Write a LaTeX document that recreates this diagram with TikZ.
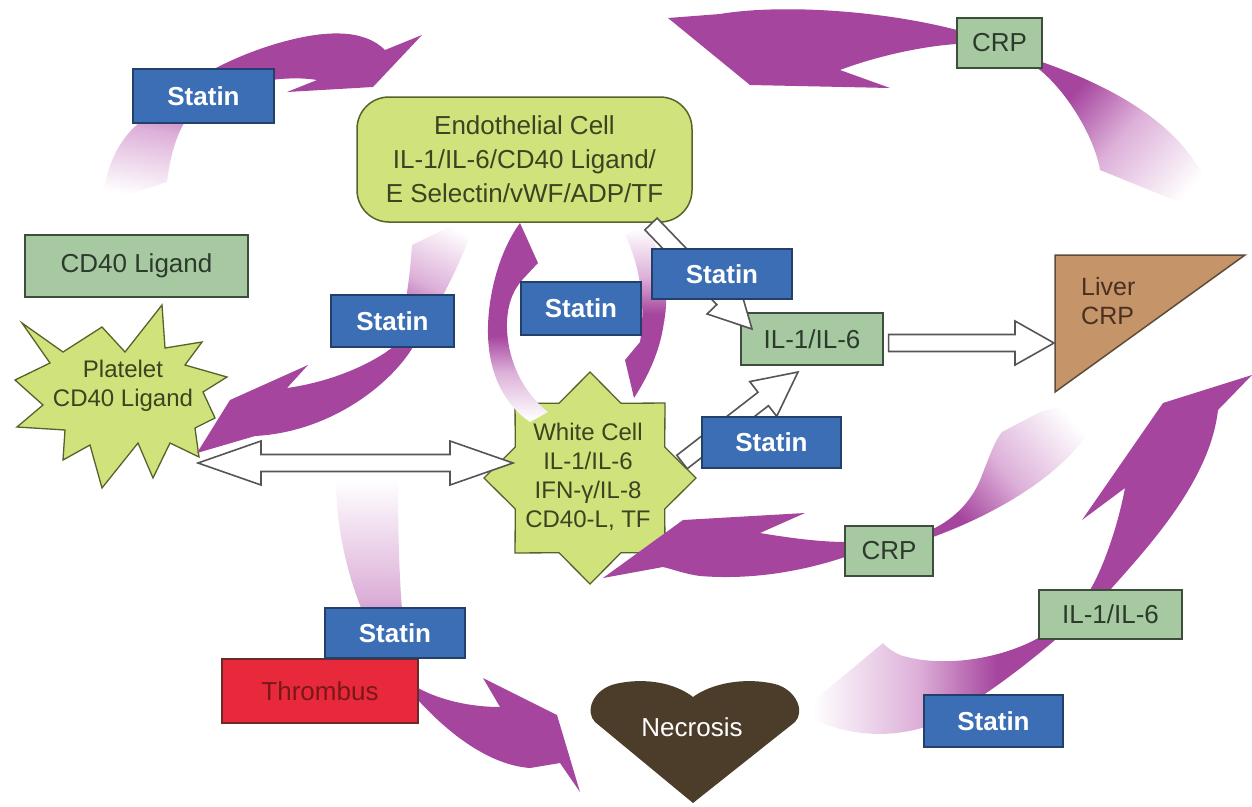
\documentclass[tikz,border=0pt]{standalone}
\usepackage{fontspec}
\setmainfont{Liberation Sans}
\usetikzlibrary{calc,shapes.geometric}
\definecolor{purp}{HTML}{A6459E}
\definecolor{purpmid}{HTML}{DDB0D9}
\definecolor{statinblue}{HTML}{3B6EB4}
\definecolor{statinborder}{HTML}{22406A}
\definecolor{sage}{HTML}{A6C9A1}
\definecolor{sageborder}{HTML}{3E4E3C}
\definecolor{sagetext}{HTML}{2C3A2C}
\definecolor{lime}{HTML}{CFE27B}
\definecolor{limeborder}{HTML}{55632A}
\definecolor{limetext}{HTML}{3A4420}
\definecolor{liverfill}{HTML}{C59469}
\definecolor{liverborder}{HTML}{5E4C3A}
\definecolor{livertext}{HTML}{4A3020}
\definecolor{thrfill}{HTML}{E8293B}
\definecolor{thrborder}{HTML}{6B2A2A}
\definecolor{thrtext}{HTML}{7A1818}
\definecolor{heartfill}{HTML}{4B3D2A}
\definecolor{hollowline}{HTML}{555555}
% the part of a shading from 25bp to 75bp is what covers the shaded rectangle
\pgfdeclareverticalshading{tailfade}{100bp}{color(0bp)=(purp); color(28bp)=(purp); color(46bp)=(purpmid); color(70bp)=(white); color(100bp)=(white)}
\pgfdeclarehorizontalshading{tailfadeh}{100bp}{color(0bp)=(white); color(30bp)=(white); color(54bp)=(purpmid); color(72bp)=(purp); color(100bp)=(purp)}

% purple curved arrow: path, shading options, tail rectangle corners
\newcommand\purparrow[4]{%
  \begin{scope}
    \clip #1;
    \fill[purp, even odd rule] (-20,-20) rectangle (1280,830) #3 rectangle #4;
    \shade[#2] #3 rectangle #4;
  \end{scope}}
% hollow single arrow: start, end, head length
\newcommand\harrow[3]{%
  \coordinate (hb) at ($(#2)!#3pt!(#1)$);
  \draw[hollow] ($(#1)!8.5pt!90:(#2)$) -- ($(hb)!8.5pt!-90:(#1)$) -- ($(hb)!22pt!-90:(#1)$) -- (#2)
    -- ($(hb)!22pt!90:(#1)$) -- ($(hb)!8.5pt!90:(#1)$) -- ($(#1)!8.5pt!-90:(#2)$) -- cycle;}
% hollow double arrow
\newcommand\hdarrow[3]{%
  \coordinate (hbA) at ($(#1)!#3pt!(#2)$);
  \coordinate (hbB) at ($(#2)!#3pt!(#1)$);
  \draw[hollow] (#1) -- ($(hbA)!22pt!90:(#2)$) -- ($(hbA)!8.5pt!90:(#2)$) -- ($(hbB)!8.5pt!-90:(#1)$)
    -- ($(hbB)!22pt!-90:(#1)$) -- (#2) -- ($(hbB)!22pt!90:(#1)$) -- ($(hbB)!8.5pt!90:(#1)$)
    -- ($(hbA)!8.5pt!-90:(#2)$) -- ($(hbA)!22pt!-90:(#2)$) -- cycle;}

\def\arrA{(103,203) .. controls (105,160) and (125,130) .. (150,115) .. controls (180,85) and (230,55) .. (290,40) .. controls (330,30) and (365,30) .. (385,50) -- (422,35) -- (373,87) -- (287,92) -- (317,80) .. controls (280,74) and (230,85) .. (200,105) .. controls (185,115) and (172,140) .. (167,182) -- cycle}
\def\arrB{(1218,218) .. controls (1205,150) and (1150,100) .. (1042,62) .. controls (1010,50) and (990,35) .. (957,30) .. controls (880,10) and (780,4) .. (720,14) -- (668,18) -- (750,85) -- (890,88) -- (840,70) .. controls (880,55) and (925,46) .. (957,44) .. controls (990,44) and (1020,58) .. (1040,70) .. controls (1070,95) and (1095,140) .. (1100,170) -- cycle}
\def\arrD{(478,213) .. controls (460,270) and (430,320) .. (413,347) .. controls (390,385) and (330,432) .. (255,436) -- (197,453) -- (230,400) -- (308,365) -- (287,388) .. controls (330,382) and (370,365) .. (393,347) .. controls (405,320) and (410,275) .. (412,245) -- cycle}
\def\arrE{(520,223) .. controls (500,250) and (487,295) .. (488,335) .. controls (489,375) and (505,405) .. (530,422) -- (548,412) .. controls (520,390) and (506,355) .. (507,322) .. controls (508,300) and (515,288) .. (523,279) -- (538,263) -- cycle}
\def\arrF{(645,226) .. controls (664,255) and (670,290) .. (664,322) .. controls (660,352) and (647,378) .. (634,398) -- (625,360) -- (640,342) .. controls (646,305) and (640,265) .. (625,235) -- cycle}
\def\arrG{(1103,393) .. controls (1098,450) and (1020,505) .. (933,537) .. controls (900,550) and (870,555) .. (845,557) .. controls (800,572) and (750,580) .. (700,576) .. controls (685,574) and (672,569) .. (663,567) -- (603,578) -- (683,520) -- (805,513) -- (760,533) .. controls (790,538) and (820,542) .. (846,542) .. controls (880,540) and (915,535) .. (935,528) .. controls (960,515) and (975,495) .. (982,475) .. controls (990,455) and (995,440) .. (1002,432) -- (1040,412) -- cycle}
\def\arrH{(800,712) .. controls (850,742) and (900,735) .. (925,727) .. controls (965,712) and (1020,670) .. (1055,640) .. controls (1075,620) and (1095,605) .. (1110,590) .. controls (1150,545) and (1210,480) .. (1218,410) -- (1252,375) -- (1163,403) -- (1082,520) -- (1125,488) .. controls (1117,530) and (1102,570) .. (1090,590) .. controls (1075,612) and (1060,628) .. (1040,637) .. controls (1000,660) and (940,668) .. (900,655) .. controls (890,650) and (885,646) .. (883,643) -- cycle}
\def\arrI{(336,466) .. controls (333,560) and (370,650) .. (418,700) .. controls (450,735) and (490,765) .. (530,768) -- (560,763) -- (580,792) -- (557,715) -- (483,678) -- (500,707) .. controls (470,707) and (440,700) .. (418,688) .. controls (400,650) and (398,560) .. (398,472) -- cycle}

\begin{document}
\begin{tikzpicture}[x=1pt,y=-1pt,
  statin/.style={draw=statinborder, fill=statinblue, line width=1.3pt, text=white, inner sep=0pt,
    font=\bfseries\fontsize{26}{30}\selectfont},
  gbox/.style={draw=sageborder, fill=sage, line width=1.3pt, text=sagetext, inner sep=0pt,
    font=\fontsize{26}{30}\selectfont},
  endo/.style={draw=limeborder, fill=lime, line width=1.5pt, text=limetext, inner sep=0pt,
    rounded corners=32pt, align=center, font=\fontsize{26}{34}\selectfont},
  limeshape/.style={draw=limeborder, fill=lime, line width=1.3pt, line join=miter},
  celltext/.style={text=limetext, align=center, inner sep=0pt, font=\fontsize{24}{29}\selectfont},
  thr/.style={draw=thrborder, fill=thrfill, line width=1.3pt, text=thrtext, inner sep=0pt,
    font=\fontsize{26}{30}\selectfont},
  liverst/.style={draw=liverborder, fill=liverfill, line width=1.5pt},
  livtext/.style={text=livertext, align=left, inner sep=0pt, font=\fontsize{25}{29}\selectfont},
  heart/.style={fill=heartfill},
  nectext/.style={text=white, inner sep=0pt, font=\fontsize{26}{30}\selectfont},
  hollow/.style={draw=hollowline, fill=white, line width=1.6pt, line join=miter},
  fadeV/.style={shading=tailfade, shading angle=#1},
  fadeH/.style={shading=tailfadeh, shading angle=0}
]
\useasboundingbox (0,0) rectangle (1252,806);

% --- cells (stars) ---
\draw[limeshape] (22,323) -- (63,352) -- (102,327) -- (125,352) -- (162,305) -- (165,348) -- (202,342)
  -- (185,365) -- (227,377) -- (203,392) -- (215,418) -- (195,428) -- (199,457) -- (170,443)
  -- (153,478) -- (138,443) -- (102,488) -- (90,445) -- (63,460) -- (65,430) -- (17,427)
  -- (43,405) -- (15,380) -- (50,363) -- cycle;
\node[celltext] (plt) at (123,386) {Platelet\\CD40 Ligand};
\node[limeshape, star, star points=8, star point ratio=1.31, minimum size=212pt, inner sep=0pt] (wcs) at (590,478) {};
\node[celltext] (wc) at (588,477) {White Cell\\IL-1/IL-6\\IFN-γ/IL-8\\CD40-L, TF};

% --- purple curved arrows ---
\purparrow{\arrA}{fadeV=170}{(80,70)}{(215,212)}
\purparrow{\arrB}{fadeV=229}{(1042,55)}{(1232,226)}
\purparrow{\arrD}{fadeV=334}{(385,205)}{(490,350)}
\purparrow{\arrE}{fadeV=180}{(470,330)}{(560,430)}
\purparrow{\arrF}{fadeV=0}{(610,218)}{(678,320)}
\purparrow{\arrG}{fadeV=311}{(935,385)}{(1115,560)}
\purparrow{\arrH}{fadeH}{(790,630)}{(1010,750)}
\purparrow{\arrI}{fadeV=0}{(325,455)}{(418,700)}

% --- shapes and boxes ---
\fill[heart] (693,803) -- (595,722) .. controls (585,712) and (592,690) .. (615,684)
  .. controls (645,677) and (675,683) .. (693,697) .. controls (712,683) and (745,677) .. (775,684)
  .. controls (797,690) and (805,712) .. (795,722) -- cycle;
\node[nectext] (nec) at (692,727) {Necrosis};
\draw[liverst] (1055,255) -- (1245,255) -- (1055,392) -- cycle;
\node[livtext, anchor=west] (liv) at (1081,301) {Liver\\CRP};
\coordinate (livin) at (1054,343);

\node[gbox, minimum width=223pt, minimum height=62pt] (cd40) at (136.5,266) {CD40 Ligand};
\node[gbox, minimum width=85pt, minimum height=50pt] (crp1) at (999.5,43) {CRP};
\node[gbox, minimum width=88pt, minimum height=50pt] (crp2) at (889,551) {CRP};
\node[gbox, minimum width=142pt, minimum height=52pt] (il1) at (812,339) {IL-1/IL-6};
\node[gbox, minimum width=143pt, minimum height=49pt] (il2) at (1110.5,614.5) {IL-1/IL-6};
\node[endo, minimum width=335pt, minimum height=125pt] (endo) at (524.5,159.5)
  {Endothelial Cell\\IL-1/IL-6/CD40 Ligand/\\E Selectin/vWF/ADP/TF};
\node[thr, minimum width=196pt, minimum height=64pt] (thr) at (320,691) {Thrombus};

% --- hollow arrows ---
\coordinate (dblL) at (198,463);
\coordinate (dblR) at (513,463);
\hdarrow{dblL}{dblR}{63}
\coordinate (e2ilS) at (651,224);
\coordinate (e2ilE) at (752,329);
\harrow{e2ilS}{e2ilE}{42}
\coordinate (w2ilS) at (682,462);
\coordinate (w2ilE) at (798,372);
\harrow{w2ilS}{w2ilE}{44}
\coordinate (ilout) at ($(il1.east)+(5,4)$);
\harrow{ilout}{livin}{39}

% --- statin boxes ---
\node[statin, minimum width=141pt, minimum height=54pt] (s1) at (203.5,96) {Statin};
\node[statin, minimum width=123pt, minimum height=52pt] (s2) at (392.5,321) {Statin};
\node[statin, minimum width=120pt, minimum height=53pt] (s3) at (581,308.5) {Statin};
\node[statin, minimum width=140pt, minimum height=50pt] (s4) at (722,274) {Statin};
\node[statin, minimum width=139pt, minimum height=51pt] (s5) at (771.5,442.5) {Statin};
\node[statin, minimum width=139pt, minimum height=52pt] (s6) at (993.5,721) {Statin};
\node[statin, minimum width=140pt, minimum height=50pt] (s7) at (395,633) {Statin};
\end{tikzpicture}
\end{document}
